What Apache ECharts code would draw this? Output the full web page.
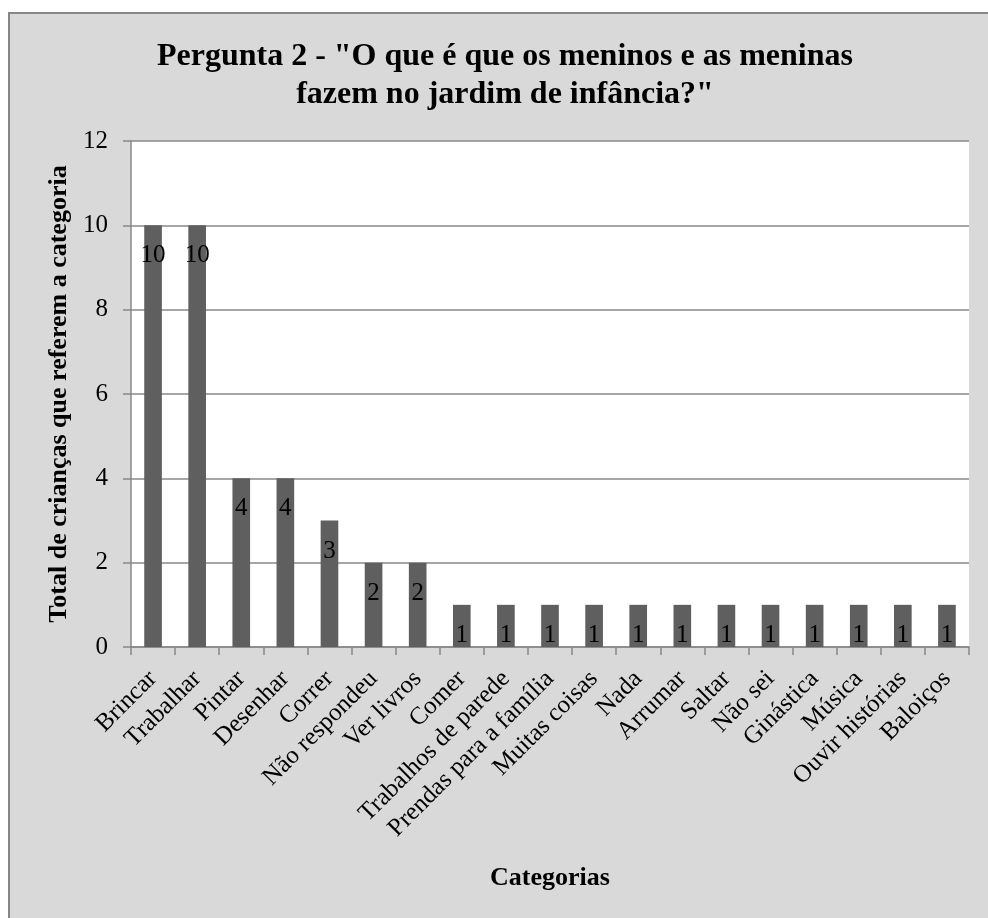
<!DOCTYPE html>
<html>
<head>
<meta charset="utf-8">
<script src="https://cdn.jsdelivr.net/npm/echarts@6/dist/echarts.min.js"></script>
<style>
html,body{margin:0;padding:0;background:#fff;}
#chart{width:988px;height:918px;}
</style>
</head>
<body>
<div id="chart"></div>
<script>
const titleText = 'Pergunta 2 - "O que é que os meninos e as meninas\nfazem no jardim de infância?"';
const categories = ['Brincar','Trabalhar','Pintar','Desenhar','Correr','Não respondeu','Ver livros','Comer','Trabalhos de parede','Prendas para a família','Muitas coisas','Nada','Arrumar','Saltar','Não sei','Ginástica','Música','Ouvir histórias','Baloiços'];
const values = [10,10,4,4,3,2,2,1,1,1,1,1,1,1,1,1,1,1,1];
const yAxisName = 'Total de crianças que referem a categoria';
const xAxisName = 'Categorias';

const font = 'Liberation Serif, Times New Roman, serif';
const chart = echarts.init(document.getElementById('chart'), null, {renderer:'canvas'});
chart.setOption({
  backgroundColor: '#ffffff',
  animation: false,
  graphic: [{
    type: 'rect', z: -10, silent: true,
    shape: {x: 9, y: 13, width: 1000, height: 920},
    style: {fill: '#d9d9d9', stroke: '#868686', lineWidth: 2}
  }],
  title: {
    text: titleText,
    left: 500, top: 33, textAlign: 'center',
    textStyle: {fontFamily: font, fontWeight: 'bold', fontSize: 32, lineHeight: 38, color: '#000'}
  },
  grid: {
    left: 131, right: 19, top: 141, bottom: 271,
    show: true, backgroundColor: '#ffffff', borderWidth: 0
  },
  xAxis: {
    type: 'category',
    data: categories,
    name: xAxisName,
    nameLocation: 'middle',
    nameGap: 218,
    nameTextStyle: {fontFamily: font, fontWeight: 'bold', fontSize: 26, color: '#000'},
    axisLine: {show: true, lineStyle: {color: '#888', width: 1.5}},
    axisTick: {show: true, interval: 0, length: 8, lineStyle: {color: '#888', width: 1.5}},
    axisLabel: {interval: 0, rotate: 45, margin: 28, fontFamily: font, fontSize: 25, color: '#000'}
  },
  yAxis: {
    type: 'value',
    min: 0, max: 12, interval: 2,
    name: yAxisName,
    nameLocation: 'middle',
    nameGap: 52,
    nameTextStyle: {fontFamily: font, fontWeight: 'bold', fontSize: 26, color: '#000'},
    axisLine: {show: true, lineStyle: {color: '#888', width: 1.5}},
    axisTick: {show: true, length: 8, lineStyle: {color: '#888', width: 1.5}},
    axisLabel: {margin: 23, fontFamily: font, fontSize: 25, color: '#000'},
    splitLine: {show: true, lineStyle: {color: '#888', width: 1.5}}
  },
  series: [{
    type: 'bar',
    data: values,
    barWidth: '40%',
    itemStyle: {color: '#5f5f5f'},
    label: {
      show: true, position: 'insideTop', distance: 18,
      fontFamily: font, fontSize: 25, color: '#000'
    }
  }]
});
</script>
</body>
</html>
